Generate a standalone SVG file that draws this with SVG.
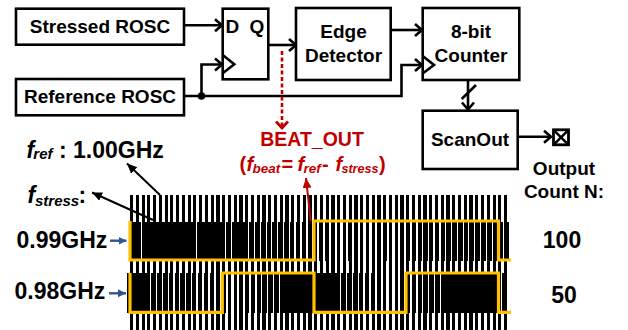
<svg xmlns="http://www.w3.org/2000/svg" width="628" height="330" viewBox="0 0 628 330">
<style>
text{font-family:"Liberation Sans",Arial,sans-serif;font-weight:bold;fill:#000}
.c{text-anchor:middle}
.l{font-size:19px}
.h{font-size:23px}
.i{font-style:italic}
.box{fill:#fff;stroke:#000;stroke-width:2.6}
.w{fill:none;stroke:#000;stroke-width:2.6}
.bar{stroke:#000;fill:none;shape-rendering:crispEdges}
.wave{fill:none;stroke:#FFC000;stroke-width:3.200;stroke-linejoin:miter}
</style>
<defs>
<marker id="open" markerUnits="userSpaceOnUse" markerWidth="13" markerHeight="16" refX="10" refY="8" orient="auto"><path d="M3 2L10 8L3 14" fill="none" stroke="#000" stroke-width="2.600"/></marker>
<marker id="redopen" markerUnits="userSpaceOnUse" markerWidth="14" markerHeight="16" refX="10" refY="8" orient="auto"><path d="M3.500 2L10 8L3.500 14" fill="none" stroke="#C00000" stroke-width="2.800"/></marker>
<marker id="thin" markerUnits="userSpaceOnUse" markerWidth="12" markerHeight="10" refX="10" refY="4.500" orient="auto"><path d="M0 0L10 4.500L0 9z" fill="#000"/></marker>
<marker id="blue" markerUnits="userSpaceOnUse" markerWidth="10" markerHeight="10" refX="8" refY="4.500" orient="auto"><path d="M0 0.500L8 4.500L0 8.500z" fill="#2F5597"/></marker>
<marker id="red" markerUnits="userSpaceOnUse" markerWidth="11" markerHeight="10" refX="10" refY="4.500" orient="auto"><path d="M0 0L10 4.500L0 9z" fill="#C00000"/></marker>
</defs>

<g id="waveforms">
<line class="bar" x1="130" y1="262.500" x2="507" y2="262.500" stroke-width="135" stroke-dasharray="3.200 2.554"/>
<line class="bar" x1="132.300" y1="241" x2="509" y2="241" stroke-width="39" stroke-dasharray="3.200 2.640"/>
<line class="bar" x1="126.900" y1="293" x2="507" y2="293" stroke-width="40" stroke-dasharray="3.400 2.550"/>
<path class="wave" d="M130 221V260H314V221H498.500V260H511"/>
<path class="wave" d="M130 273V312.300H222.300V273H314V312.300H406V273H498.500V312.300H511"/>
</g>

<g id="connectors">
<path class="w" d="M184 25.300H222" marker-end="url(#open)"/>
<path class="w" d="M184 96H401.500V65H422" marker-end="url(#open)"/>
<path class="w" d="M201.500 96V64.500H222" marker-end="url(#open)"/>
<path class="w" d="M268 45H296" marker-end="url(#open)"/>
<path class="w" d="M391 30H422" marker-end="url(#open)"/>
<path class="w" d="M468 80V109.500" marker-end="url(#open)"/>
<path class="w" d="M461.700 99L476 85"/>
<path class="w" d="M518 136.700H551" marker-end="url(#open)"/>
<circle cx="201.500" cy="96" r="3.800" fill="#000"/>
<path d="M282 51V128" fill="none" stroke="#C00000" stroke-width="2.600" stroke-dasharray="4 2.500" marker-end="url(#redopen)"/>
<path d="M160 195L127 163.500" fill="none" stroke="#000" stroke-width="2" marker-end="url(#thin)"/>
<path d="M153 220L92 192.500" fill="none" stroke="#000" stroke-width="2" marker-end="url(#thin)"/>
<path d="M110 240.700H126.500" fill="none" stroke="#2F5597" stroke-width="2.400" marker-end="url(#blue)"/>
<path d="M109 293.300H126" fill="none" stroke="#2F5597" stroke-width="2.400" marker-end="url(#blue)"/>
<path d="M310.700 221L306 178" fill="none" stroke="#C00000" stroke-width="2" marker-end="url(#red)"/>
</g>

<g id="stressed-rosc"><rect class="box" x="16" y="8.700" width="168" height="36"/><text class="l c" x="100" y="32.700">Stressed ROSC</text></g>
<g id="reference-rosc"><rect class="box" x="16" y="79" width="168" height="36.300"/><text class="l c" x="100" y="103">Reference ROSC</text></g>
<g id="dff"><rect class="box" x="222.700" y="8.700" width="45.600" height="70.600" fill-opacity="0"/><path class="w" d="M222.700 55L234.300 64.300L222.700 73.300"/><text class="l" x="225.500" y="33.300">D</text><text class="l" x="249.500" y="33.300">Q</text></g>
<g id="edge-detector"><rect class="box" x="296" y="8" width="94.700" height="72"/><text class="l c" x="343.500" y="37.500">Edge</text><text class="l c" x="343.500" y="61.700">Detector</text></g>
<g id="counter"><rect class="box" x="422.700" y="8" width="96.600" height="72"/><path class="w" d="M422.700 56L434 65L422.700 73.500"/><text class="l c" x="471" y="37.500">8-bit</text><text class="l c" x="471" y="61.700">Counter</text></g>
<g id="scanout"><rect class="box" x="422.700" y="110.700" width="95" height="58.300"/><text class="l c" x="470" y="145.700">ScanOut</text></g>
<g id="output-pad"><rect x="553.500" y="129.800" width="15" height="15" fill="#fff" stroke="#000" stroke-width="2.800"/><path d="M553.500 129.800L568.500 144.800M568.500 129.800L553.500 144.800" stroke="#000" stroke-width="2.400"/></g>

<g id="output-label"><text class="l c" x="564" y="175">Output</text><text class="l c" x="564" y="198">Count N:</text></g>
<g id="count-100"><text class="h c" x="562" y="248.300">100</text></g>
<g id="count-50"><text class="h c" x="564" y="302.700">50</text></g>

<g id="beat-label">
<text style="fill:#C00000;font-size:19.500px;text-anchor:middle" x="312" y="146">BEAT_OUT</text>
<text style="fill:#C00000;font-size:20px"><tspan x="239.500" y="170.500">(</tspan><tspan class="i" x="246.500" y="170.500">f</tspan><tspan class="i" style="font-size:13.500px" x="252.500" y="172.500">beat</tspan><tspan x="281.500" y="170.500">=</tspan><tspan class="i" x="297.500" y="170.500">f</tspan><tspan class="i" style="font-size:13.500px" x="303.500" y="172.500">ref</tspan><tspan x="322" y="170.500">-</tspan><tspan class="i" x="335.500" y="170.500">f</tspan><tspan class="i" style="font-size:12.500px" x="341.500" y="172.500">stress</tspan><tspan x="379" y="170.500">)</tspan></text>
</g>

<g id="fref-label"><text style="font-size:23px"><tspan class="i" x="26.500" y="157.700">f</tspan><tspan class="i" style="font-size:15px" x="33.300" y="159">ref</tspan><tspan x="59" y="157.700">:</tspan><tspan x="73" y="157.700">1.00GHz</tspan></text></g>
<g id="fstress-label"><text style="font-size:23px"><tspan class="i" x="27.500" y="203">f</tspan><tspan class="i" style="font-size:15px" x="35" y="206">stress</tspan><tspan x="78.500" y="203">:</tspan></text></g>
<g id="freq-99"><text class="h" x="16.500" y="247.700">0.99GHz</text></g>
<g id="freq-98"><text class="h" x="14.500" y="299.300">0.98GHz</text></g>
</svg>
